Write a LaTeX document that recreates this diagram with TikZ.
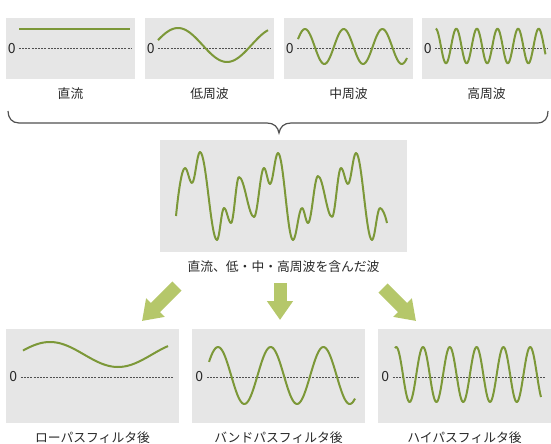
\documentclass[tikz,border=0pt]{standalone}
\usepackage{fontspec}
\setmainfont{Noto Sans CJK JP}
\usetikzlibrary{arrows.meta,positioning}
\definecolor{panelfill}{RGB}{230,230,230}
\definecolor{waveline}{RGB}{124,152,56}
\definecolor{arrowfill}{RGB}{181,199,106}
\definecolor{zeroline}{RGB}{80,80,80}
\definecolor{textcol}{RGB}{40,40,40}
\tikzset{
    panel/.style={rectangle, fill=panelfill, inner sep=0pt},
    toppanel/.style={panel, minimum width=129pt, minimum height=61pt},
    midpanel/.style={panel, minimum width=247pt, minimum height=112pt},
    botpanel/.style={panel, minimum width=173pt, minimum height=94pt},
    wavelbl/.style={font=\fontsize{12.8}{14}\selectfont, text=textcol, inner sep=1pt},
    zerolbl/.style={font=\fontsize{14}{15}\selectfont, text=textcol, inner sep=0pt},
    zeroaxis/.style={draw=zeroline, line width=1pt, dash pattern=on 2pt off 1.2pt},
    wave/.style={draw=waveline, line width=2pt, line join=round},
    bracemark/.style={draw=zeroline, line width=1.2pt},
    bigarrow/.style={draw=arrowfill, line width=13pt,
        -{Triangle[width=25pt,length=19pt]}}
}

\begin{document}
\begin{tikzpicture}[x=1pt, y=-1pt, node distance=7pt]
    \useasboundingbox (0,0) rectangle (551,444);
    % top row: the four components
    \foreach \name/\cx/\txt in {dc/70.5/直流, low/209.5/低周波, mid/348.5/中周波, high/486.5/高周波} {
        \node[toppanel] (\name) at (\cx,48.5) {};
        \node[wavelbl, below=of \name] (\name lbl) {\txt};
        \node[zerolbl] (\name zero) at ([xshift=6pt]\name.west) {0};
        \draw[zeroaxis] ([xshift=13pt]\name.west) -- ([xshift=-4pt]\name.east);
    }
    \draw[wave] (19,29) -- (130,29);
    \draw[wave, domain=158:268, samples=60, variable=\x]
        plot (\x, {45-17*cos(360/98*(\x-178))});
    \draw[wave, domain=298:407, samples=90, variable=\x]
        plot (\x, {46.5-17.5*cos(360/38.7*(\x-305))});
    \draw[wave, domain=435.7:545.5, samples=160, variable=\x]
        plot (\x, {46-17.3*cos(360/20.6*(\x-435.7))});
    % brace gathering the components
    \draw[bracemark] (8,111) .. controls (8,118) and (12,123) .. (19,123)
        -- (267,123) .. controls (274,123) and (278,127) .. (279,133)
        .. controls (280,127) and (284,123) .. (291,123)
        -- (537,123) .. controls (545,123) and (548,118) .. (548,111);
    % mixed signal
    \node[midpanel] (mix) at (283.5,196) {};
    \node[wavelbl, below=of mix] (mixlbl) {直流、低・中・高周波を含んだ波};
    \draw[wave] (176,216) .. controls (178,196) and (181.5,168) .. (185,168)
        \foreach \x/\y [remember=\x as \px (initially 185), remember=\y as \py (initially 168)] in
            {192/183, 200/152, 217/240, 224/208, 231/223, 239/177, 254/217, 264/168,
             270/184, 278/153, 293/240, 302/208, 308/223, 318/176, 332/217, 341/168,
             348/184, 356/153, 372/240, 380/208}
        { .. controls ({\px+0.364*(\x-\px)},\py) and ({\x-0.364*(\x-\px)},\y) .. (\x,\y) }
        .. controls (382.5,208) and (385.5,216) .. (387,223);
    % bottom row: filter outputs
    \foreach \name/\cx/\txt in {lp/92.5/ローパスフィルタ後, bp/278.5/バンドパスフィルタ後, hp/464.5/ハイパスフィルタ後} {
        \node[botpanel] (\name) at (\cx,376) {};
        \node[wavelbl, below=of \name] (\name lbl) {\txt};
        \node[zerolbl] (\name zero) at ([xshift=7.5pt, yshift=-1pt]\name.west) {0};
        \draw[zeroaxis] ([xshift=15pt, yshift=-1pt]\name.west) -- ([xshift=-5pt, yshift=-1pt]\name.east);
    }
    \draw[wave, domain=23:168, samples=70, variable=\x]
        plot (\x, {354.5-12.5*cos(360/136*(\x-50))});
    \draw[wave, domain=209:355, samples=120, variable=\x]
        plot (\x, {375.5-28.5*cos(360/52.7*(\x-218))});
    \draw[wave, domain=395:541, samples=180, variable=\x]
        plot (\x, {374.5-27.5*cos(360/26.8*(\x-423))});
    % arrows from the mixed signal to the filters
    \coordinate (lpfrom) at (177,286);
    \coordinate (lpto) at (142,321);
    \coordinate (bpfrom) at (280,283);
    \coordinate (bpto) at (280,320);
    \coordinate (hpfrom) at (383,288);
    \coordinate (hpto) at (416,321);
    \draw[bigarrow] (lpfrom) -- (lpto);
    \draw[bigarrow] (bpfrom) -- (bpto);
    \draw[bigarrow] (hpfrom) -- (hpto);
\end{tikzpicture}
\end{document}
